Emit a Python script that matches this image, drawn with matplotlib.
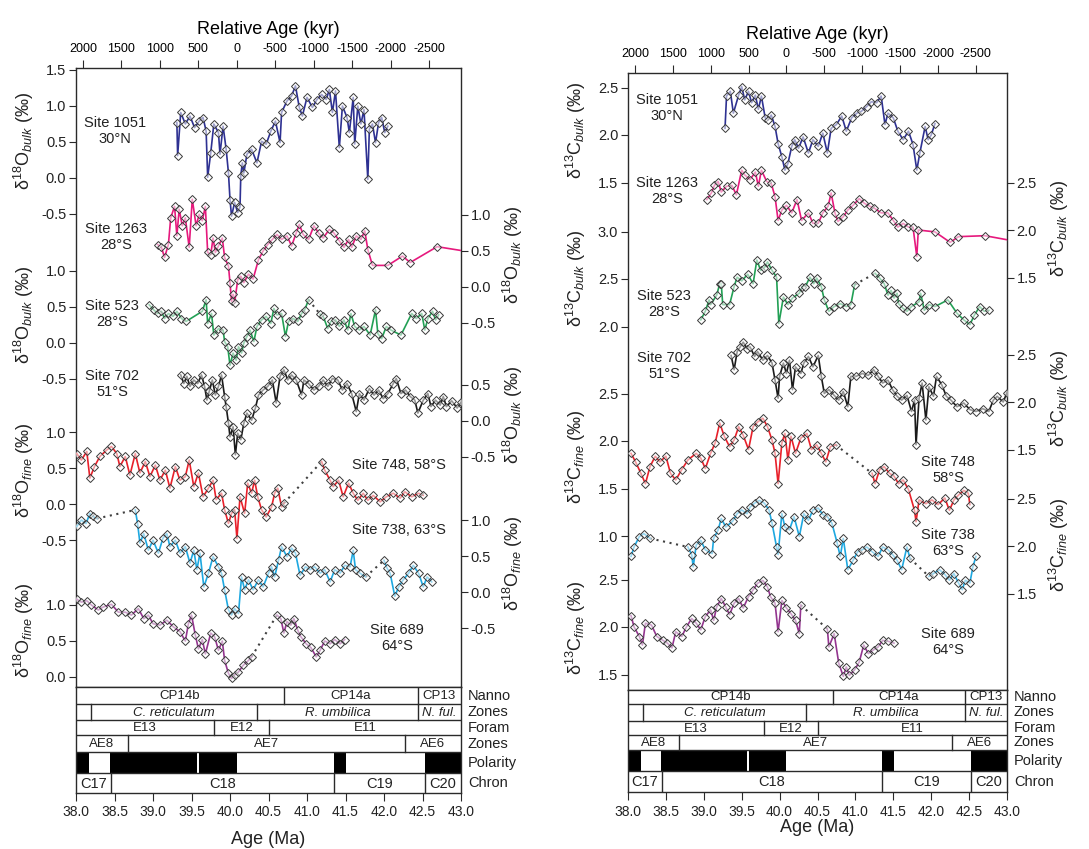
import numpy as np
import matplotlib
matplotlib.use('Agg')
import matplotlib.pyplot as plt
from matplotlib.patches import Rectangle

plt.rcParams['font.family'] = ['Liberation Sans', 'DejaVu Sans']
plt.rcParams['mathtext.fontset'] = 'custom'
plt.rcParams['mathtext.rm'] = 'Liberation Sans'
plt.rcParams['mathtext.it'] = 'Liberation Sans:italic'
plt.rcParams['mathtext.bf'] = 'Liberation Sans:bold'
plt.rcParams['axes.unicode_minus'] = False

NaN = float('nan')

# ---------------- DATA (Age Ma, value permil); NaN marks a dotted gap -------------
d18O_1051 = [(39.31,0.77),(39.32,0.31),(39.36,0.91),(39.42,0.75),(39.48,0.86),(39.54,0.70),(39.60,0.79),(39.65,0.84),(39.69,0.65),(39.71,0.01),(39.75,0.35),(39.79,0.75),(39.85,0.63),(39.87,0.33),(39.91,0.72),(39.95,0.40),(39.98,0.07),(40.00,-0.30),(40.02,-0.53),(40.06,-0.34),(40.10,-0.48),(40.13,-0.40),(40.14,0.03),(40.16,0.21),(40.18,0.07),(40.22,0.33),(40.28,0.40),(40.35,0.21),(40.41,0.51),(40.47,0.47),(40.53,0.65),(40.59,0.79),(40.65,0.49),(40.67,0.91),(40.74,1.07),(40.80,1.14),(40.85,1.28),(40.90,0.98),(40.94,0.86),(41.00,1.12),(41.07,0.98),(41.13,1.09),(41.19,1.16),(41.25,1.09),(41.29,1.23),(41.33,0.91),(41.37,1.21),(41.42,0.42),(41.46,1.00),(41.52,0.84),(41.55,0.63),(41.60,1.12),(41.62,0.47),(41.66,1.00),(41.70,0.75),(41.74,0.95),(41.79,-0.02),(41.81,0.68),(41.85,0.75),(41.89,0.49),(41.93,0.77),(41.97,0.84),(42.01,0.63),(42.05,0.72)]
d18O_1263 = [(39.06,0.59),(39.11,0.55),(39.15,0.41),(39.20,0.59),(39.23,0.96),(39.28,1.12),(39.31,0.71),(39.34,1.08),(39.38,0.85),(39.42,0.96),(39.47,0.55),(39.51,1.22),(39.56,0.85),(39.60,1.01),(39.64,0.92),(39.68,1.12),(39.71,0.48),(39.75,0.45),(39.78,0.68),(39.81,0.48),(39.85,0.57),(39.90,0.68),(39.93,0.41),(39.98,0.29),(40.00,0.06),(40.02,-0.20),(40.04,-0.10),(40.06,-0.22),(40.10,0.10),(40.14,0.15),(40.18,0.06),(40.24,0.18),(40.30,0.11),(40.37,0.38),(40.43,0.50),(40.49,0.59),(40.55,0.66),(40.61,0.73),(40.67,0.66),(40.74,0.71),(40.80,0.57),(40.86,0.75),(40.90,0.87),(40.95,0.73),(41.02,0.66),(41.09,0.85),(41.15,0.75),(41.21,0.68),(41.29,0.80),(41.35,0.75),(41.42,0.64),(41.48,0.55),(41.54,0.66),(41.58,0.55),(41.64,0.71),(41.70,0.66),(41.75,0.78),(41.79,0.52),(41.85,0.30),(42.05,0.30),(42.24,0.43),(42.34,0.34),(42.69,0.56),(43.10,0.49)]
d18O_523 = [(38.95,0.53),(39.01,0.46),(39.06,0.41),(39.11,0.44),(39.15,0.34),(39.20,0.41),(39.26,0.37),(39.31,0.44),(39.37,0.34),(39.43,0.30),(39.64,0.44),(39.69,0.60),(39.71,0.27),(39.76,0.41),(39.79,0.11),(39.85,0.20),(39.91,0.18),(39.93,0.02),(39.97,-0.05),(40.00,-0.31),(40.04,-0.14),(40.08,-0.24),(40.11,-0.05),(40.15,-0.14),(40.18,0.00),(40.22,0.09),(40.26,0.18),(40.31,0.02),(40.35,0.23),(40.41,0.32),(40.47,0.37),(40.53,0.27),(40.57,0.48),(40.61,0.39),(40.67,0.41),(40.72,0.09),(40.76,0.30),(40.82,0.34),(40.88,0.30),(40.93,0.41),(40.97,0.46),(41.02,0.60),(NaN,NaN),(41.17,0.40),(41.21,0.37),(41.27,0.20),(41.31,0.30),(41.37,0.32),(41.42,0.23),(41.48,0.32),(41.53,0.18),(41.57,0.41),(41.62,0.23),(41.68,0.18),(41.74,0.23),(41.82,0.11),(41.89,0.46),(41.92,0.13),(41.97,0.06),(42.03,0.23),(42.09,0.18),(42.22,0.11),(42.36,0.41),(42.42,0.34),(42.49,0.41),(42.53,0.18),(42.57,0.34),(42.63,0.44),(42.67,0.32),(42.71,0.39)]
d18O_702 = [(39.36,0.64),(39.40,0.52),(39.44,0.62),(39.48,0.48),(39.53,0.57),(39.58,0.52),(39.63,0.64),(39.67,0.48),(39.70,0.29),(39.73,0.41),(39.77,0.57),(39.81,0.36),(39.85,0.48),(39.89,0.64),(39.93,0.34),(39.95,0.20),(39.98,-0.03),(40.00,-0.22),(40.04,-0.08),(40.07,-0.47),(40.10,-0.17),(40.14,-0.26),(40.18,-0.03),(40.22,0.11),(40.28,0.01),(40.33,0.18),(40.37,0.36),(40.43,0.43),(40.49,0.48),(40.55,0.57),(40.60,0.25),(40.65,0.62),(40.70,0.71),(40.75,0.57),(40.80,0.64),(40.86,0.57),(40.93,0.36),(40.96,0.57),(41.02,0.52),(41.09,0.43),(41.15,0.48),(41.21,0.57),(41.27,0.48),(41.33,0.59),(41.40,0.57),(41.46,0.43),(41.52,0.52),(41.58,0.38),(41.64,0.13),(41.68,0.38),(41.74,0.29),(41.81,0.45),(41.87,0.36),(41.93,0.43),(41.99,0.31),(42.05,0.38),(42.12,0.52),(42.16,0.59),(42.22,0.38),(42.28,0.43),(42.34,0.34),(42.40,0.29),(42.44,0.11),(42.51,0.29),(42.57,0.38),(42.61,0.20),(42.67,0.29),(42.73,0.22),(42.77,0.34),(42.81,0.20),(42.88,0.28),(42.95,0.18),(43.00,0.26)]
d18O_748 = [(38.01,0.70),(38.07,0.61),(38.14,0.73),(38.18,0.36),(38.24,0.52),(38.31,0.66),(38.40,0.75),(38.46,0.80),(38.53,0.70),(38.57,0.52),(38.64,0.66),(38.70,0.40),(38.77,0.70),(38.83,0.43),(38.90,0.59),(38.96,0.38),(39.03,0.54),(39.09,0.33),(39.16,0.47),(39.22,0.22),(39.29,0.52),(39.35,0.33),(39.42,0.38),(39.47,0.61),(39.53,0.24),(39.59,0.43),(39.65,0.10),(39.72,0.22),(39.78,0.33),(39.82,0.06),(39.89,0.15),(39.93,-0.08),(39.98,-0.27),(40.02,-0.13),(40.06,-0.08),(40.09,-0.48),(40.13,0.10),(40.19,-0.13),(40.23,0.29),(40.28,0.15),(40.32,0.33),(40.36,0.10),(40.41,-0.08),(40.47,-0.18),(40.54,-0.04),(40.58,0.15),(40.62,0.22),(40.67,-0.04),(40.70,0.01),(NaN,NaN),(41.19,0.59),(41.23,0.47),(41.30,0.33),(41.34,0.24),(41.41,0.33),(41.47,0.10),(41.54,0.29),(41.60,0.15),(41.66,0.05),(41.73,0.15),(41.79,0.05),(41.86,0.12),(41.95,0.03),(42.03,0.10),(42.12,0.15),(42.21,0.08),(42.27,0.17),(42.36,0.10),(42.45,0.15),(42.51,0.12)]
d18O_738 = [(38.01,0.91),(38.07,1.00),(38.13,0.95),(38.18,1.09),(38.22,1.05),(38.27,1.02),(NaN,NaN),(38.77,1.14),(38.80,0.95),(38.83,0.68),(38.88,0.81),(38.94,0.58),(39.00,0.72),(39.07,0.54),(39.13,0.75),(39.18,0.81),(39.22,0.63),(39.29,0.72),(39.35,0.54),(39.42,0.63),(39.48,0.40),(39.53,0.58),(39.57,0.31),(39.61,0.54),(39.66,0.07),(39.72,0.26),(39.78,0.49),(39.85,0.35),(39.89,0.26),(39.93,0.03),(39.98,-0.25),(40.02,-0.32),(40.06,-0.23),(40.11,-0.30),(40.15,0.21),(40.19,0.03),(40.24,0.17),(40.30,0.03),(40.37,0.17),(40.43,0.07),(40.50,0.26),(40.54,0.35),(40.58,0.21),(40.63,0.44),(40.67,0.63),(40.74,0.49),(40.80,0.61),(40.85,0.54),(40.91,0.23),(40.98,0.35),(41.04,0.31),(41.10,0.35),(41.17,0.26),(41.23,0.31),(41.30,0.14),(41.36,0.31),(41.43,0.26),(41.49,0.37),(41.56,0.35),(41.60,0.58),(41.63,0.31),(41.69,0.26),(41.76,0.21),(NaN,NaN),(42.00,0.44),(42.04,0.33),(42.08,0.26),(42.14,-0.06),(42.19,0.07),(42.25,0.17),(42.32,0.26),(42.38,0.37),(42.45,0.26),(42.51,0.07),(42.56,0.21),(42.62,0.14)]
d18O_689 = [(38.01,1.08),(38.07,1.04),(38.14,1.06),(38.20,1.00),(38.29,0.93),(38.35,0.97),(38.46,1.01),(38.55,0.90),(38.64,0.90),(38.72,0.86),(38.81,0.95),(38.88,0.81),(38.94,0.86),(39.00,0.74),(39.09,0.72),(39.18,0.79),(39.26,0.70),(39.35,0.63),(39.42,0.50),(39.46,0.74),(39.50,0.86),(39.55,0.58),(39.59,0.39),(39.64,0.52),(39.68,0.32),(39.75,0.61),(39.80,0.56),(39.85,0.37),(39.90,0.50),(39.93,0.23),(39.98,0.05),(40.02,-0.02),(40.06,0.03),(40.11,0.07),(40.17,0.16),(40.24,0.23),(40.28,0.28),(NaN,NaN),(40.61,0.86),(40.66,0.81),(40.70,0.61),(40.74,0.77),(40.79,0.72),(40.83,0.81),(40.88,0.65),(40.92,0.56),(40.99,0.46),(41.05,0.41),(41.12,0.28),(41.17,0.37),(41.23,0.50),(41.30,0.46),(41.36,0.52),(41.43,0.46),(41.49,0.52)]

d13C_1051 = [(39.28,2.07),(39.30,2.41),(39.35,2.46),(39.39,2.23),(39.46,2.42),(39.50,2.51),(39.54,2.37),(39.59,2.46),(39.63,2.34),(39.68,2.42),(39.72,2.27),(39.76,2.41),(39.81,2.18),(39.85,2.16),(39.89,2.21),(39.94,2.09),(39.98,1.91),(40.03,1.77),(40.07,1.63),(40.11,1.70),(40.16,1.88),(40.20,1.95),(40.25,1.86),(40.31,1.98),(40.38,1.81),(40.44,1.95),(40.51,1.88),(40.57,2.02),(40.63,1.81),(40.68,2.07),(40.75,2.11),(40.82,2.20),(40.88,2.04),(40.95,2.18),(41.02,2.23),(41.08,2.25),(41.15,2.30),(41.21,2.35),(41.28,2.34),(41.34,2.41),(41.39,2.11),(41.43,2.23),(41.50,2.18),(41.56,2.04),(41.63,1.95),(41.70,2.04),(41.76,1.90),(41.81,1.63),(41.85,1.81),(41.92,2.09),(41.96,1.95),(42.00,2.00),(42.05,2.12)]
d13C_1263 = [(39.04,2.32),(39.10,2.39),(39.14,2.47),(39.19,2.51),(39.23,2.40),(39.30,2.46),(39.37,2.47),(39.43,2.37),(39.50,2.63),(39.54,2.58),(39.61,2.53),(39.68,2.61),(39.72,2.46),(39.76,2.63),(39.83,2.51),(39.89,2.49),(39.94,2.35),(39.98,2.10),(40.03,2.21),(40.09,2.26),(40.16,2.18),(40.23,2.32),(40.29,2.10),(40.38,2.18),(40.44,2.07),(40.51,2.07),(40.57,2.18),(40.64,2.25),(40.68,2.39),(40.73,2.18),(40.77,2.09),(40.84,2.14),(40.90,2.21),(40.97,2.26),(41.05,2.33),(41.12,2.28),(41.19,2.25),(41.25,2.23),(41.34,2.18),(41.43,2.18),(41.50,2.10),(41.56,2.03),(41.63,2.07),(41.70,2.03),(41.76,2.03),(41.81,1.72),(41.83,2.00),(42.05,1.98),(42.25,1.87),(42.36,1.93),(42.71,1.94),(43.05,1.89)]
d13C_523 = [(38.96,2.07),(39.02,2.16),(39.07,2.28),(39.09,2.23),(39.17,2.33),(39.21,2.45),(39.23,2.45),(39.25,2.23),(39.34,2.23),(39.40,2.42),(39.44,2.52),(39.50,2.48),(39.58,2.55),(39.65,2.45),(39.70,2.70),(39.75,2.59),(39.80,2.62),(39.84,2.68),(39.90,2.59),(39.96,2.52),(39.99,2.03),(40.05,2.31),(40.11,2.23),(40.17,2.30),(40.26,2.35),(40.30,2.42),(40.34,2.42),(40.40,2.52),(40.45,2.45),(40.49,2.51),(40.55,2.42),(40.59,2.28),(40.65,2.16),(40.72,2.21),(40.80,2.24),(40.88,2.21),(40.94,2.23),(40.99,2.44),(NaN,NaN),(41.26,2.56),(41.32,2.51),(41.38,2.45),(41.43,2.33),(41.47,2.38),(41.51,2.30),(41.55,2.35),(41.57,2.24),(41.63,2.19),(41.68,2.16),(41.74,2.21),(41.84,2.26),(41.86,2.35),(41.91,2.17),(41.97,2.23),(42.05,2.21),(42.22,2.28),(42.34,2.14),(42.43,2.07),(42.51,2.02),(42.57,2.12),(42.64,2.21),(42.70,2.16),(42.76,2.17)]
d13C_702 = [(39.36,2.49),(39.40,2.34),(39.44,2.53),(39.48,2.58),(39.52,2.63),(39.57,2.56),(39.61,2.58),(39.67,2.48),(39.71,2.53),(39.78,2.44),(39.84,2.49),(39.90,2.41),(39.94,2.23),(39.98,2.04),(40.00,2.27),(40.05,2.41),(40.09,2.30),(40.13,2.44),(40.17,2.13),(40.21,2.37),(40.28,2.30),(40.32,2.41),(40.38,2.48),(40.44,2.37),(40.51,2.49),(40.55,2.27),(40.59,2.09),(40.65,2.13),(40.72,2.07),(40.78,2.02),(40.84,2.11),(40.90,1.95),(40.94,2.27),(41.01,2.27),(41.09,2.30),(41.17,2.28),(41.24,2.34),(41.30,2.27),(41.36,2.20),(41.43,2.23),(41.49,2.13),(41.55,2.06),(41.61,2.02),(41.68,2.07),(41.74,1.90),(41.78,2.02),(41.80,1.55),(41.84,2.04),(41.88,2.20),(41.93,1.81),(41.97,2.16),(42.03,2.06),(42.07,2.27),(42.14,2.18),(42.20,2.06),(42.26,2.02),(42.34,1.95),(42.43,1.99),(42.51,1.92),(42.59,1.90),(42.68,1.93),(42.76,1.90),(42.82,2.02),(42.87,2.06),(42.95,2.00),(43.00,2.10)]
d13C_748 = [(38.04,1.87),(38.10,1.78),(38.17,1.66),(38.23,1.55),(38.29,1.73),(38.36,1.84),(38.42,1.78),(38.50,1.84),(38.56,1.66),(38.63,1.59),(38.71,1.70),(38.79,1.80),(38.90,1.87),(38.96,1.82),(39.02,1.71),(39.09,1.87),(39.15,1.98),(39.21,2.19),(39.27,2.05),(39.34,1.94),(39.40,2.01),(39.46,2.15),(39.52,2.06),(39.59,1.91),(39.65,2.15),(39.71,2.20),(39.78,2.24),(39.84,2.15),(39.90,2.01),(39.94,1.87),(39.98,1.55),(40.03,1.98),(40.07,2.08),(40.11,1.80),(40.15,2.05),(40.21,1.87),(40.28,2.03),(40.36,2.08),(40.42,1.91),(40.49,1.96),(40.55,1.87),(40.61,1.78),(40.67,1.94),(40.74,1.96),(NaN,NaN),(41.22,1.66),(41.26,1.55),(41.32,1.70),(41.38,1.73),(41.45,1.66),(41.51,1.63),(41.57,1.55),(41.63,1.59),(41.70,1.49),(41.78,1.27),(41.80,1.15),(41.84,1.38),(41.93,1.34),(42.01,1.38),(42.09,1.33),(42.18,1.40),(42.24,1.27),(42.30,1.38),(42.36,1.43),(42.43,1.48),(42.49,1.45),(42.51,1.33)]
d13C_738 = [(38.04,1.89),(38.08,1.99),(38.15,2.10),(38.21,2.13),(38.29,2.08),(NaN,NaN),(38.79,1.99),(38.84,1.91),(38.86,1.78),(38.90,2.01),(38.96,2.06),(39.02,1.96),(39.11,1.92),(39.13,2.08),(39.19,2.17),(39.23,2.29),(39.29,2.20),(39.38,2.26),(39.44,2.34),(39.50,2.38),(39.57,2.34),(39.61,2.41),(39.67,2.45),(39.73,2.48),(39.80,2.45),(39.86,2.38),(39.90,2.24),(39.96,1.99),(39.98,1.91),(40.03,2.34),(40.07,2.20),(40.13,2.17),(40.19,2.31),(40.26,2.10),(40.32,2.34),(40.38,2.27),(40.44,2.38),(40.51,2.40),(40.57,2.33),(40.63,2.31),(40.69,2.24),(40.76,2.03),(40.80,1.89),(40.84,2.08),(40.90,1.75),(40.97,1.85),(41.03,1.94),(41.09,1.96),(41.15,1.99),(41.22,1.94),(41.30,1.89),(41.36,1.99),(41.43,1.96),(41.49,1.91),(41.55,1.85),(41.61,1.75),(41.68,1.99),(41.72,1.87),(NaN,NaN),(41.97,1.68),(42.03,1.71),(42.11,1.75),(42.18,1.70),(42.24,1.64),(42.30,1.71),(42.36,1.61),(42.41,1.54),(42.45,1.64),(42.51,1.61),(42.55,1.78),(42.59,1.89)]
d13C_689 = [(38.04,2.12),(38.08,2.00),(38.15,1.90),(38.19,1.81),(38.23,2.04),(38.31,2.02),(38.38,1.90),(38.46,1.86),(38.52,1.83),(38.58,1.78),(38.63,1.95),(38.71,1.90),(38.77,2.00),(38.84,2.09),(38.90,2.04),(38.96,1.97),(39.02,2.11),(39.09,2.18),(39.13,2.07),(39.17,2.21),(39.23,2.30),(39.29,2.21),(39.34,2.13),(39.40,2.25),(39.46,2.30),(39.52,2.20),(39.59,2.32),(39.65,2.39),(39.71,2.46),(39.78,2.49),(39.84,2.42),(39.88,2.32),(39.94,2.25),(39.98,1.95),(40.03,2.28),(40.09,2.20),(40.15,2.14),(40.21,2.07),(40.26,1.93),(40.28,2.23),(NaN,NaN),(40.63,1.98),(40.65,1.79),(40.72,1.93),(40.78,1.62),(40.84,1.48),(40.88,1.58),(40.92,1.49),(40.99,1.55),(41.05,1.63),(41.11,1.81),(41.17,1.72),(41.24,1.76),(41.30,1.79),(41.36,1.86),(41.43,1.85),(41.51,1.83)]

# stratigraphy (Ma boundaries)
nanno_bounds = [38.0, 40.70, 42.44, 43.0]
nanno_names = ['CP14b', 'CP14a', 'CP13']
nzone_bounds = [38.0, 38.20, 40.35, 42.44, 43.0]
nzone_names = ['', 'C. reticulatum', 'R. umbilica', 'N. ful.']
foram_bounds = [38.0, 39.79, 40.51, 43.0]
foram_names = ['E13', 'E12', 'E11']
ae_bounds = [38.0, 38.67, 42.27, 43.0]
ae_names = ['AE8', 'AE7', 'AE6']
normal_polarity = [(38.0, 38.17), (38.44, 39.57), (39.60, 40.09), (41.35, 41.51), (42.53, 43.0)]
chron_bounds = [38.0, 38.45, 41.35, 42.53, 43.0]
chron_names = ['C17', 'C18', 'C19', 'C20']
row_names = ['Nanno', 'Zones', 'Foram', 'Zones', 'Polarity', 'Chron']
rel_ticks = [2000, 1500, 1000, 500, 0, -500, -1000, -1500, -2000, -2500]
age_ticks = [38.0, 38.5, 39.0, 39.5, 40.0, 40.5, 41.0, 41.5, 42.0, 42.5, 43.0]
REL_ZERO = 40.09

colors = {'1051': '#2e3192', '1263': '#e6197d', '523': '#22a055', '702': '#1a1a1a',
          '748': '#e8202a', '738': '#1ea8e0', '689': '#93358f'}

# ---------------- LAYOUT -------------------------------------------------------
W, H = 1089, 849
fig = plt.figure(figsize=(W / 100, H / 100), dpi=100)


def rect(x0, y0, x1, y1):
    return [x0 / W, 1 - y1 / H, (x1 - x0) / W, (y1 - y0) / H]


def ftext(x, y, s, **kw):
    fig.text(x / W, 1 - y / H, s, **kw)


SPC = '#2a2a2a'


def panel(box, rows, scale, series, xlabel_y, iso):
    x0, y0, x1, y1 = box
    base = fig.add_axes(rect(x0, y0, x1, y1))
    base.set_xlim(38, 43)
    base.set_yticks([])
    base.tick_params(axis='x', bottom=False, labelbottom=False)
    for sp in base.spines.values():
        sp.set_linewidth(1.0)
        sp.set_color(SPC)
    sec = base.secondary_xaxis('top', functions=(lambda m: (REL_ZERO - m) * 1000,
                                                 lambda r: REL_ZERO - r / 1000))
    sec.set_xticks(rel_ticks)
    sec.set_xticklabels([str(t) for t in rel_ticks])
    sec.tick_params(direction='out', length=6, width=0.8, labelsize=9, pad=3, color=SPC)
    sec.spines['top'].set_visible(False)
    sec.set_xlabel('Relative Age (kyr)', fontsize=13, labelpad=7)

    for (data, key, anchor_v, anchor_px, ticks, side, kind, lab_y, site_txt, site_xy, site_ha) in series:
        ax = fig.add_axes(rect(x0, y0, x1, y1))
        ax.set_xlim(38, 43)
        top = anchor_v + (anchor_px - y0) / scale
        bot = anchor_v - (y1 - anchor_px) / scale
        ax.set_ylim(bot, top)
        ax.patch.set_visible(False)
        for sp in ax.spines.values():
            sp.set_visible(False)
        ax.xaxis.set_visible(False)
        if side == 'left':
            ax.yaxis.tick_left()
        else:
            ax.yaxis.tick_right()
        ax.set_yticks(ticks)
        ax.set_yticklabels([f'{t:.1f}' for t in ticks])
        ax.tick_params(axis='y', direction='out', length=5, width=0.8, labelsize=10.5,
                       pad=2, color=SPC, labelcolor='#222')
        a = np.array([p[0] for p in data], dtype=float)
        v = np.array([p[1] for p in data], dtype=float)
        c = colors[key]
        ax.plot(a, v, color=c, lw=1.2, zorder=2)
        ax.plot(a, v, ls='none', marker='D', ms=3.7, mec='#3a3a3a', mew=0.7,
                mfc=(1, 1, 1, 0.55), zorder=3)
        for i in np.where(np.isnan(v))[0]:
            ax.plot([a[i - 1], a[i + 1]], [v[i - 1], v[i + 1]], ls=(0, (1, 2.2)),
                    color='#404040', lw=1.5, zorder=1)
        lab = (r'δ$^{' + iso[0] + r'}$' + iso[1] + r'$_{\mathit{' + kind + r'}}$ (‰)')
        lx = x0 - 52 if side == 'left' else x1 + 52
        ftext(lx, lab_y, lab, rotation=90, ha='center', va='center', fontsize=13,
              color='#222')
        ftext(site_xy[0], site_xy[1], site_txt, ha=site_ha, va='center', fontsize=10.5,
              linespacing=1.25, multialignment='center', color='#222')

    # stratigraphic table
    st = fig.add_axes(rect(x0, rows[0], x1, rows[-1]))
    st.set_xlim(38, 43)
    st.set_ylim(rows[-1], rows[0])
    st.set_yticks([])
    for sp in st.spines.values():
        sp.set_linewidth(1.0)
        sp.set_color(SPC)
    for yb in rows[1:-1]:
        st.axhline(yb, color=SPC, lw=1.0)
    band_rows = [(nanno_bounds, nanno_names, False), (nzone_bounds, nzone_names, True),
                 (foram_bounds, foram_names, False), (ae_bounds, ae_names, False)]
    for r, (bounds, names, ital) in enumerate(band_rows):
        ya, yb = rows[r], rows[r + 1]
        for b in bounds[1:-1]:
            st.plot([b, b], [ya, yb], color=SPC, lw=1.0)
        for i, nm in enumerate(names):
            st.text((bounds[i] + bounds[i + 1]) / 2, (ya + yb) / 2 + 0.5, nm, ha='center',
                    va='center', fontsize=9.5, style='italic' if ital else 'normal',
                    color='#222')
    ya, yb = rows[4], rows[5]
    for s, e in normal_polarity:
        st.add_patch(Rectangle((s, ya), e - s, yb - ya, color='black', lw=0))
    ya, yb = rows[5], rows[6]
    for b in chron_bounds[1:-1]:
        st.plot([b, b], [ya, yb], color=SPC, lw=1.0)
    for i, nm in enumerate(chron_names):
        st.text((chron_bounds[i] + chron_bounds[i + 1]) / 2, (ya + yb) / 2 + 0.5, nm,
                ha='center', va='center', fontsize=10.5, color='#222')
    for r, nm in enumerate(row_names):
        ftext(x1 + 7, (rows[r] + rows[r + 1]) / 2, nm, ha='left', va='center',
              fontsize=10.5, color='#222')
    st.set_xticks(age_ticks)
    st.set_xticklabels([f'{t:.1f}' for t in age_ticks])
    st.tick_params(axis='x', direction='out', length=6, width=0.8, labelsize=10,
                   pad=3, color=SPC, labelcolor='#222')
    ftext((x0 + x1) / 2, xlabel_y, 'Age (Ma)', ha='center', va='center', fontsize=13,
          color='#222')


left_series = [
    (d18O_1051, '1051', 0.0, 178, [1.5, 1.0, 0.5, 0.0, -0.5], 'left', 'bulk', 141,
     'Site 1051\n30°N', (115, 131), 'center'),
    (d18O_1263, '1263', 0.0, 287, [1.0, 0.5, 0.0, -0.5], 'right', 'bulk', 255,
     'Site 1263\n28°S', (116, 237), 'center'),
    (d18O_523, '523', 0.0, 343, [1.0, 0.5, 0.0, -0.5], 'left', 'bulk', 315,
     'Site 523\n28°S', (112, 314), 'center'),
    (d18O_702, '702', 0.0, 421, [0.5, 0.0, -0.5], 'right', 'bulk', 415,
     'Site 702\n51°S', (112, 384), 'center'),
    (d18O_748, '748', 0.0, 504, [1.0, 0.5, 0.0, -0.5], 'left', 'fine', 470,
     'Site 748, 58°S', (446, 465), 'right'),
    (d18O_738, '738', 0.0, 592, [1.0, 0.5, 0.0, -0.5], 'right', 'fine', 563,
     'Site 738, 63°S', (446, 530), 'right'),
    (d18O_689, '689', 0.0, 677, [1.0, 0.5, 0.0], 'left', 'fine', 630,
     'Site 689\n64°S', (397, 638), 'center'),
]
right_series = [
    (d13C_1051, '1051', 2.0, 135, [2.5, 2.0, 1.5], 'left', 'bulk', 130,
     'Site 1051\n30°N', (667, 108), 'center'),
    (d13C_1263, '1263', 2.0, 230, [2.5, 2.0, 1.5], 'right', 'bulk', 228,
     'Site 1263\n28°S', (667, 191), 'center'),
    (d13C_523, '523', 2.5, 279, [3.0, 2.5, 2.0], 'left', 'bulk', 278,
     'Site 523\n28°S', (664, 304), 'center'),
    (d13C_702, '702', 2.0, 402, [2.5, 2.0, 1.5], 'right', 'bulk', 398,
     'Site 702\n51°S', (664, 366), 'center'),
    (d13C_748, '748', 2.0, 441, [2.5, 2.0, 1.5, 1.0], 'left', 'fine', 457,
     'Site 748\n58°S', (948, 470), 'center'),
    (d13C_738, '738', 2.0, 546, [2.5, 2.0, 1.5], 'right', 'fine', 545,
     'Site 738\n63°S', (948, 543), 'center'),
    (d13C_689, '689', 2.0, 627, [2.5, 2.0, 1.5], 'left', 'fine', 628,
     'Site 689\n64°S', (948, 642), 'center'),
]

panel((76, 68, 461, 687), [687, 704, 720, 735, 752, 773, 793], 72.0, left_series, 840,
      ('18', 'O'))
panel((628, 73, 1007, 690), [690, 704, 721, 735, 750, 771, 792], 95.0, right_series, 827,
      ('13', 'C'))

fig.savefig('out.png', dpi=100)
